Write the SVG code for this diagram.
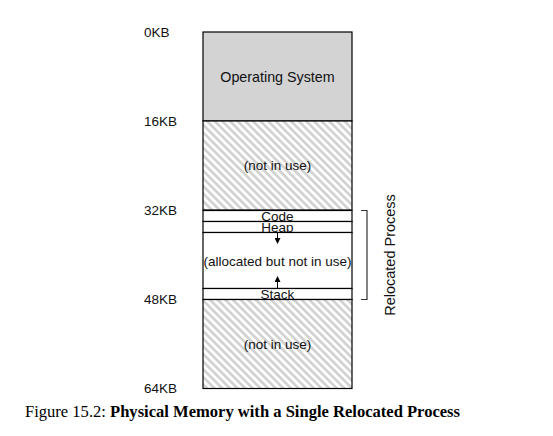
<svg xmlns="http://www.w3.org/2000/svg" width="553" height="436" viewBox="0 0 553 436">
<defs>
<pattern id="hatch" patternUnits="userSpaceOnUse" width="5.4" height="5.4" patternTransform="rotate(-45)">
<rect width="5.4" height="5.4" fill="#ffffff"/>
<rect width="2.7" height="5.4" fill="#d2d2d2"/>
</pattern>
<marker id="ah" viewBox="0 0 6 6" refX="5" refY="3" markerWidth="6" markerHeight="6" markerUnits="userSpaceOnUse" orient="auto">
<path d="M0,0 L6,3 L0,6 z" fill="#000"/>
</marker>
<style>
.lbl{font-family:"Liberation Sans",Arial,sans-serif;font-size:13.5px;fill:#111}
.ctr{text-anchor:middle}
.seg{stroke:#000;stroke-width:1.2}
.cap{font-family:"Liberation Serif","Times New Roman",serif;font-size:16.5px;fill:#000}
</style>
</defs>
<rect width="553" height="436" fill="#fff"/>
<g id="axis-labels">
<text class="lbl" x="144" y="37">0KB</text>
<text class="lbl" x="144" y="126">16KB</text>
<text class="lbl" x="144" y="215">32KB</text>
<text class="lbl" x="144" y="304">48KB</text>
<text class="lbl" x="144" y="393">64KB</text>
</g>
<g id="os">
<rect x="203" y="32" width="149" height="89" fill="#d3d3d3" class="seg"/>
<text class="lbl ctr" x="277.5" y="82" style="font-size:14.3px">Operating System</text>
</g>
<g id="free1">
<rect x="203" y="121" width="149" height="89" fill="url(#hatch)" class="seg"/>
<text class="lbl ctr" x="277.5" y="170">(not in use)</text>
</g>
<g id="code">
<rect x="203" y="210.5" width="149" height="11" fill="#fff" class="seg"/>
<text class="lbl ctr" x="277.5" y="221.3">Code</text>
</g>
<g id="heap">
<rect x="203" y="221.5" width="149" height="11" fill="#fff" class="seg"/>
<text class="lbl ctr" x="277.5" y="232">Heap</text>
</g>
<g id="allocated">
<rect x="203" y="232.5" width="149" height="56" fill="#fff" class="seg"/>
<text class="lbl ctr" x="277.5" y="266">(allocated but not in use)</text>
</g>
<g id="stack">
<rect x="203" y="288.5" width="149" height="11" fill="#fff" class="seg"/>
<text class="lbl ctr" x="277.5" y="299">Stack</text>
</g>
<g id="free2">
<rect x="203" y="299.5" width="149" height="89" fill="url(#hatch)" class="seg"/>
<text class="lbl ctr" x="277.5" y="349">(not in use)</text>
</g>
<g id="relocated-process">
<path d="M361,210.5 H367 V299.5 H361" fill="none" stroke="#333" stroke-width="1.2"/>
<text class="lbl ctr" transform="translate(395,255) rotate(-90)" style="font-size:14.5px">Relocated Process</text>
</g>
<g id="connectors">
<line x1="277.5" y1="233" x2="277.5" y2="243" stroke="#000" stroke-width="1" marker-end="url(#ah)"/>
<line x1="277.5" y1="288" x2="277.5" y2="277" stroke="#000" stroke-width="1" marker-end="url(#ah)"/>
</g>
<g id="caption">
<text class="cap" x="25" y="417" textLength="435" lengthAdjust="spacingAndGlyphs">Figure 15.2: <tspan font-weight="bold">Physical Memory with a Single Relocated Process</tspan></text>
</g>
</svg>
